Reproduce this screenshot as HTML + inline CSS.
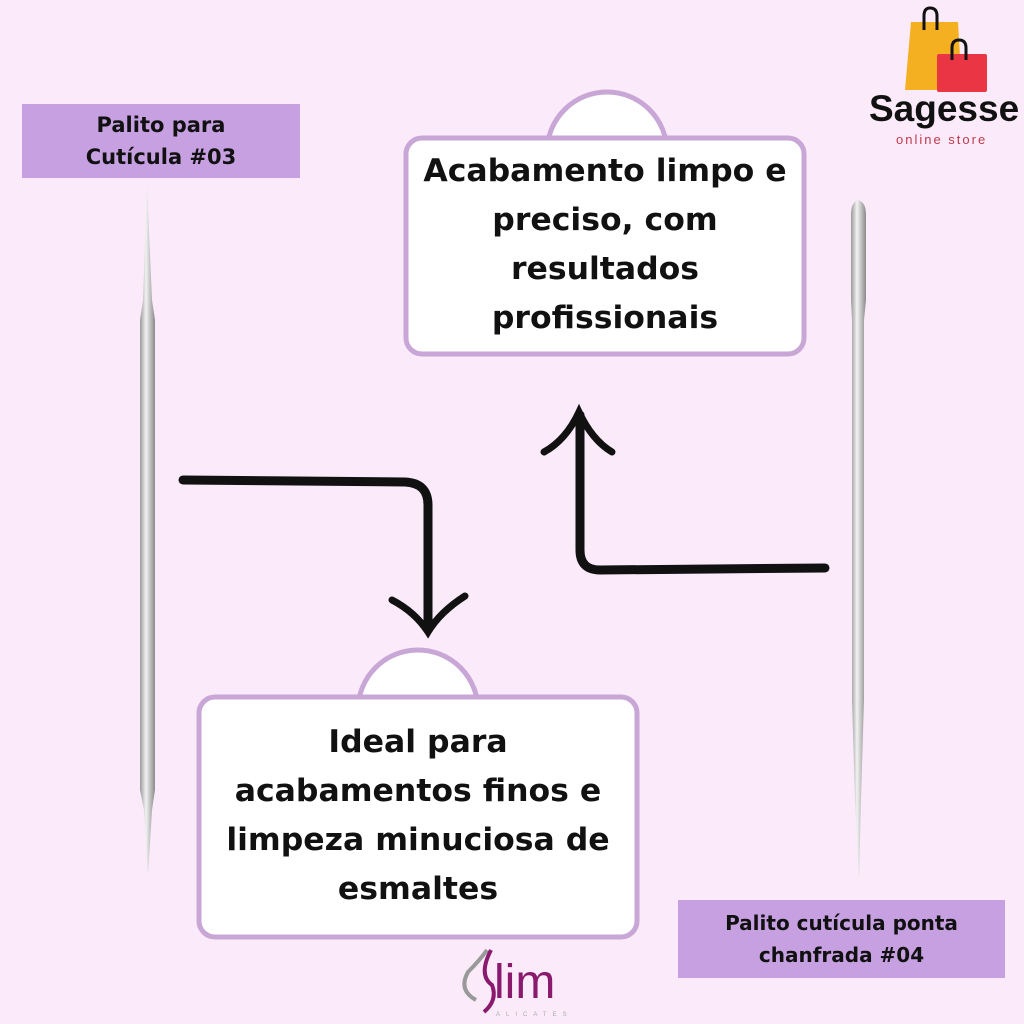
<!DOCTYPE html>
<html><head><meta charset="utf-8"><style>
body{margin:0;width:1024px;height:1024px;background:#fbebfa;position:relative;overflow:hidden;font-family:"Liberation Sans","DejaVu Sans",sans-serif}
.lab{position:absolute;background:#c6a0e0;font-weight:bold;color:#111;text-align:center;font-family:"DejaVu Sans",sans-serif}
.txt{position:absolute;text-align:center;font-weight:bold;color:#111;font-family:"DejaVu Sans",sans-serif;font-size:31.5px;line-height:49px}
</style></head><body>
<svg width="1024" height="1024" style="position:absolute;left:0;top:0">
<defs>
<linearGradient id="m" x1="0" x2="1"><stop offset="0" stop-color="#9a9a9a"/><stop offset=".4" stop-color="#f2f2f2"/><stop offset="1" stop-color="#8a8a8a"/></linearGradient>
</defs>
<circle cx="607" cy="152" r="60" fill="#fff" stroke="#c8a6d6" stroke-width="5"/>
<rect x="406" y="138" width="398" height="216" rx="16" fill="#fff" stroke="#c8a6d6" stroke-width="5"/>
<rect x="552" y="141" width="110" height="20" fill="#fff"/>
<circle cx="418" cy="710" r="60" fill="#fff" stroke="#c8a6d6" stroke-width="5"/>
<rect x="199" y="697" width="438" height="240" rx="16" fill="#fff" stroke="#c8a6d6" stroke-width="5"/>
<rect x="363" y="700" width="110" height="20" fill="#fff"/>
<path d="M147 185 L152 300 L155 320 L155 790 L152 810 L148 875 L144 810 L140 790 L140 320 L143 300 Z" fill="url(#m)"/>
<path d="M858 200 Q866 202 866 215 L866 300 L864 320 L864 700 L861 800 L859 880 L855 800 L852 700 L852 320 L851 300 L851 215 Q851 202 858 200 Z" fill="url(#m)"/>
<path d="M183 480 L405 482 Q428 483 428 505 L428 630" fill="none" stroke="#111" stroke-width="9" stroke-linecap="round"/>
<path d="M392 600 Q415 612 428 632 Q440 612 465 596" fill="none" stroke="#111" stroke-width="7" stroke-linecap="round"/>
<path d="M825 568 L600 570 Q580 570 580 550 L580 415" fill="none" stroke="#111" stroke-width="9" stroke-linecap="round"/>
<path d="M544 452 Q566 440 579 412 Q592 440 612 452" fill="none" stroke="#111" stroke-width="7" stroke-linecap="round"/>
<path d="M911 22 L958 22 L962 90 L905 90 Z" fill="#f5b022"/>
<path d="M924 30 V16 Q924 8 930 8 Q937 8 937 16 V30" fill="none" stroke="#111" stroke-width="3"/>
<rect x="937" y="54" width="50" height="38" rx="2" fill="#ea3644"/>
<path d="M952 60 V48 Q952 40 959 40 Q966 40 966 48 V60" fill="none" stroke="#111" stroke-width="3"/>
<path d="M476 1000 Q458 990 468 972 Q480 960 487 950" fill="none" stroke="#999" stroke-width="4"/>
<path d="M491 950 Q478 975 492 985 Q498 1000 484 1012" fill="none" stroke="#8a1a6e" stroke-width="4"/>
</svg>
<div class="lab" style="left:22px;top:104px;width:278px;height:74px;font-size:21px;line-height:32px;padding-top:5px;box-sizing:border-box">Palito para<br>Cutícula #03</div>
<div class="lab" style="left:678px;top:900px;width:327px;height:78px;font-size:20px;line-height:32px;padding-top:7px;box-sizing:border-box">Palito cutícula ponta<br>chanfrada #04</div>
<div class="txt" style="left:410px;top:147px;width:390px">Acabamento limpo e<br>preciso, com<br>resultados<br>profissionais</div>
<div class="txt" style="left:200px;top:718px;width:436px">Ideal para<br>acabamentos finos e<br>limpeza minuciosa de<br>esmaltes</div>
<div style="position:absolute;left:869px;top:88px;font-size:37px;font-weight:bold;color:#111;font-family:'Liberation Sans',sans-serif">Sagesse</div>
<div style="position:absolute;left:896px;top:132px;font-size:13px;color:#c0394a;letter-spacing:2px">online store</div>
<div style="position:absolute;left:494px;top:958px;font-size:48px;color:#8a1a6e;font-family:'Liberation Sans',sans-serif;line-height:50px">lim</div>
<div style="position:absolute;left:496px;top:1012px;font-size:6px;color:#aaa;letter-spacing:6px">ALICATES</div>
</body></html>
